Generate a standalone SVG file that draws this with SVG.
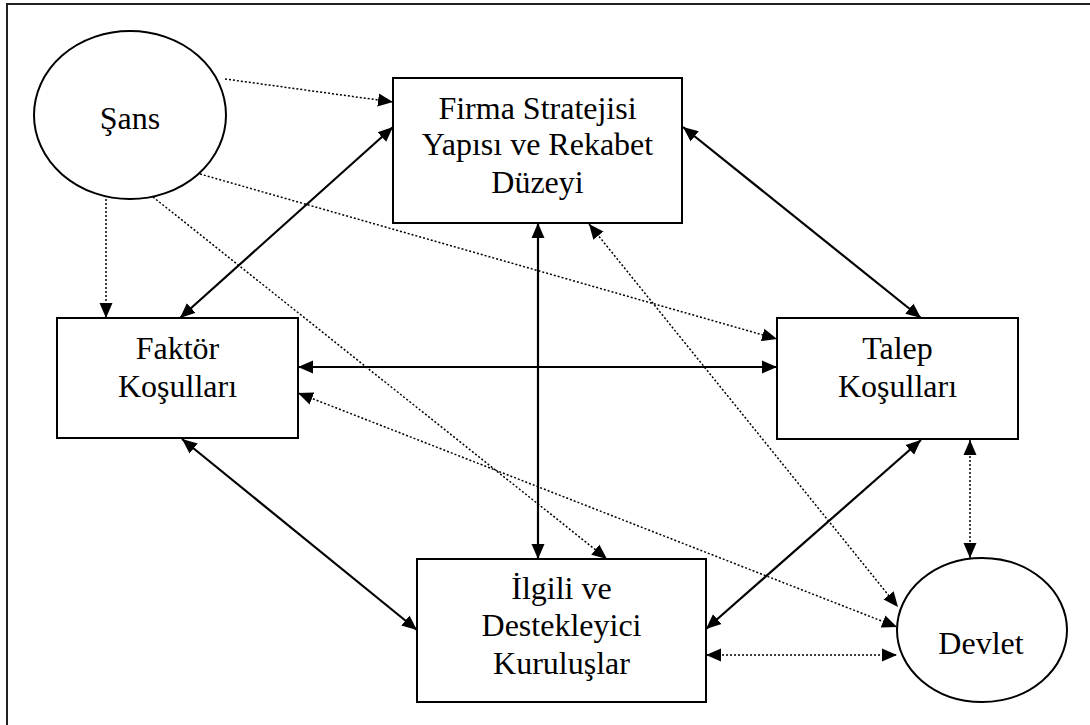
<svg xmlns="http://www.w3.org/2000/svg" width="1090" height="725" viewBox="0 0 1090 725">
<style>
.node{fill:#fff;stroke:#000;stroke-width:2}
.t{font-family:"Liberation Serif","Times New Roman",serif;font-size:32px;fill:#000;text-anchor:middle}
.solid{stroke:#000;stroke-width:2.2;fill:none}
.dot{stroke:#000;stroke-width:1.5;stroke-dasharray:2 2;fill:none}
</style>
<defs>
<marker id="ah" markerUnits="userSpaceOnUse" markerWidth="16" markerHeight="14" refX="15" refY="6.5" orient="auto-start-reverse" viewBox="0 0 16 13">
<path d="M0,0 L15,6.5 L0,13 Z" fill="#000"/>
</marker>
</defs>
<rect x="7" y="4" width="1100" height="800" fill="#fff" stroke="#222" stroke-width="2"/>
<g id="connectors">
<line class="solid" x1="180" y1="318" x2="393" y2="127" marker-start="url(#ah)" marker-end="url(#ah)"/>
<line class="solid" x1="683" y1="127" x2="921" y2="318" marker-start="url(#ah)" marker-end="url(#ah)"/>
<line class="solid" x1="538" y1="223" x2="538" y2="559" marker-start="url(#ah)" marker-end="url(#ah)"/>
<line class="solid" x1="298" y1="367" x2="777" y2="367" marker-start="url(#ah)" marker-end="url(#ah)"/>
<line class="solid" x1="182" y1="439" x2="417" y2="630" marker-start="url(#ah)" marker-end="url(#ah)"/>
<line class="solid" x1="921" y1="440" x2="706" y2="629" marker-start="url(#ah)" marker-end="url(#ah)"/>
<line class="dot" x1="225" y1="79" x2="393" y2="102" marker-end="url(#ah)"/>
<line class="dot" x1="106" y1="199" x2="106" y2="318" marker-end="url(#ah)"/>
<line class="dot" x1="200" y1="174" x2="777" y2="339" marker-end="url(#ah)"/>
<line class="dot" x1="153" y1="197" x2="607" y2="559" marker-end="url(#ah)"/>
<line class="dot" x1="589" y1="224" x2="898" y2="607" marker-start="url(#ah)" marker-end="url(#ah)"/>
<line class="dot" x1="298" y1="393" x2="897" y2="627" marker-start="url(#ah)" marker-end="url(#ah)"/>
<line class="dot" x1="970" y1="440" x2="970" y2="558" marker-start="url(#ah)" marker-end="url(#ah)"/>
<line class="dot" x1="706" y1="655" x2="897" y2="655" marker-start="url(#ah)" marker-end="url(#ah)"/>
</g>
<g id="sans">
<ellipse class="node" cx="130" cy="115" rx="96" ry="84"/>
<text class="t" x="130" y="129">Şans</text>
</g>
<g id="firma">
<rect class="node" x="393" y="78" width="289" height="145"/>
<text class="t" x="537.5" y="119">Firma Stratejisi</text>
<text class="t" x="537.5" y="155">Yapısı ve Rekabet</text>
<text class="t" x="537.5" y="193">Düzeyi</text>
</g>
<g id="faktor">
<rect class="node" x="57" y="318" width="241" height="120"/>
<text class="t" x="177.5" y="359">Faktör</text>
<text class="t" x="177.5" y="397">Koşulları</text>
</g>
<g id="talep">
<rect class="node" x="777" y="318" width="241" height="121"/>
<text class="t" x="897.5" y="359">Talep</text>
<text class="t" x="897.5" y="397">Koşulları</text>
</g>
<g id="ilgili">
<rect class="node" x="417" y="559" width="289" height="143"/>
<text class="t" x="561.5" y="599">İlgili ve</text>
<text class="t" x="561.5" y="636">Destekleyici</text>
<text class="t" x="561.5" y="674">Kuruluşlar</text>
</g>
<g id="devlet">
<ellipse class="node" cx="982" cy="630" rx="85" ry="72"/>
<text class="t" x="981" y="654">Devlet</text>
</g>
</svg>
